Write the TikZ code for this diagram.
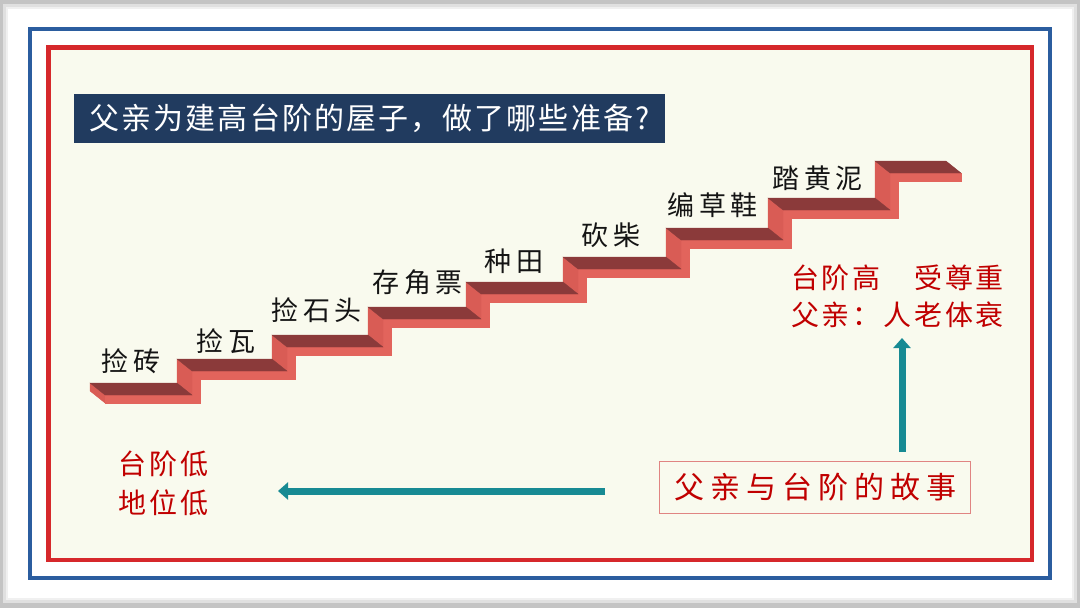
\documentclass[tikz,border=0pt]{standalone}
\usepackage{fontspec}
\setmainfont{Noto Sans CJK SC}
\usetikzlibrary{arrows.meta}
\definecolor{shadowgray}{HTML}{C4C4C4}
\definecolor{framebl}{HTML}{2B5D9F}
\definecolor{framered}{HTML}{D6282B}
\definecolor{cream}{HTML}{F9FAEE}
\definecolor{navy}{HTML}{213B5F}
\definecolor{stdark}{HTML}{8B3A3A}
\definecolor{stfront}{HTML}{E2645C}
\definecolor{stside}{HTML}{D95C55}
\definecolor{tealc}{HTML}{178A93}
\definecolor{redtext}{HTML}{C00000}
\definecolor{boxline}{HTML}{E08482}
\begin{document}
\begin{tikzpicture}[x=1pt,y=-1pt,
  steplabel/.style={anchor=west,inner sep=0pt,text=black!92,
    font=\fontsize{27}{30}\selectfont\addfontfeatures{LetterSpace=18}},
  redlabel/.style={anchor=west,inner sep=0pt,text=redtext,align=left},
  arr/.style={draw=tealc,line width=7pt,-{Triangle[length=10pt,width=17pt]}},
  frontface/.style={fill=stfront,draw=stfront,line width=0.3pt},
  sideface/.style={fill=stside,draw=stside,line width=0.3pt},
  topface/.style={fill=stdark,draw=stdark,line width=0.3pt}]
\useasboundingbox (0,0) rectangle (1080,608);
% page and shadow
\fill[shadowgray] (0,0) rectangle (1080,608);
\fill[black!12] (3,4) rectangle (1077,603);
\fill[black!6] (6,7) rectangle (1074,600);
\fill[white] (8,9) rectangle (1072,598);
% frames
\draw[framebl,line width=4pt] (30,29) rectangle (1050,578);
\fill[cream] (48.5,47.5) rectangle (1032,560);
\draw[framered,line width=4.5pt] (48.5,47.5) rectangle (1032,560);
% title
\node[fill=navy,minimum width=591pt,minimum height=49pt,inner sep=0pt,text=white,
  font=\fontsize{30}{32}\selectfont\addfontfeatures{LetterSpace=7}]
  (title) at (369.5,118.5) {父亲为建高台阶的屋子，做了哪些准备?};
% stairs
\def\XS{{90,177,272,368,466,563,666,768,875,946}}
\def\YS{{383,359,335,307,282,257,228,198,161}}
\def\dx{15}\def\dy{12}\def\tk{8}
\fill[sideface] (90,383) -- (90+\dx,383+\dy) -- (90+\dx,383+\dy+\tk) -- (90,383+\tk) -- cycle;
\foreach \i in {0,...,8}{
  \pgfmathsetmacro\xa{\XS[\i]}
  \pgfmathsetmacro\xb{\XS[\i+1]}
  \pgfmathsetmacro\ya{\YS[\i]}
  \pgfmathsetmacro\ex{\i<8 ? \tk : 0}
  \fill[frontface] (\xa+\dx,\ya+\dy) rectangle (\xb+\dx+\ex,\ya+\dy+\tk);
  \ifnum\i>0
    \pgfmathsetmacro\yp{\YS[\i-1]}
    \fill[frontface] (\xa+\dx,\ya+\dy) rectangle (\xa+\dx+\tk,\yp+\dy+\tk);
    \fill[sideface] (\xa,\ya) -- (\xa+\dx,\ya+\dy) -- (\xa+\dx,\yp+\dy) -- (\xa,\yp) -- cycle;
  \fi
}
\foreach \i in {0,...,8}{
  \pgfmathsetmacro\xa{\XS[\i]}
  \pgfmathsetmacro\xb{\XS[\i+1]}
  \pgfmathsetmacro\ya{\YS[\i]}
  \fill[topface] (\xa,\ya) -- (\xb,\ya) -- (\xb+\dx,\ya+\dy) -- (\xa+\dx,\ya+\dy) -- cycle;
}
% step labels
\node[steplabel] (s1) at (101,361) {捡砖};
\node[steplabel] (s2) at (196,341) {捡瓦};
\node[steplabel] (s3) at (271,310) {捡石头};
\node[steplabel] (s4) at (372,282) {存角票};
\node[steplabel] (s5) at (484,261) {种田};
\node[steplabel] (s6) at (581,235) {砍柴};
\node[steplabel] (s7) at (667,205) {编草鞋};
\node[steplabel] (s8) at (772,178) {踏黄泥};
% red texts
\node[redlabel,font=\fontsize{28}{39}\selectfont\addfontfeatures{LetterSpace=11}]
  (low) at (118,483) {台阶低\\地位低};
\node[redlabel,font=\fontsize{28}{37}\selectfont\addfontfeatures{LetterSpace=10}]
  (high) at (791,296) {台阶高　受尊重\\父亲：人老体衰};
\node[draw=boxline,line width=1pt,minimum width=311pt,minimum height=52pt,inner sep=0pt,
  text=redtext,font=\fontsize{30}{32}\selectfont\addfontfeatures{LetterSpace=20}]
  (story) at (815,487) {父亲与台阶的故事};
% arrows
\coordinate (la0) at (605,491);
\coordinate (la1) at (278,491);
\coordinate (ua0) at (902,452);
\coordinate (ua1) at (902,338);
\draw[arr] (la0) -- (la1);
\draw[arr] (ua0) -- (ua1);
\end{tikzpicture}
\end{document}
